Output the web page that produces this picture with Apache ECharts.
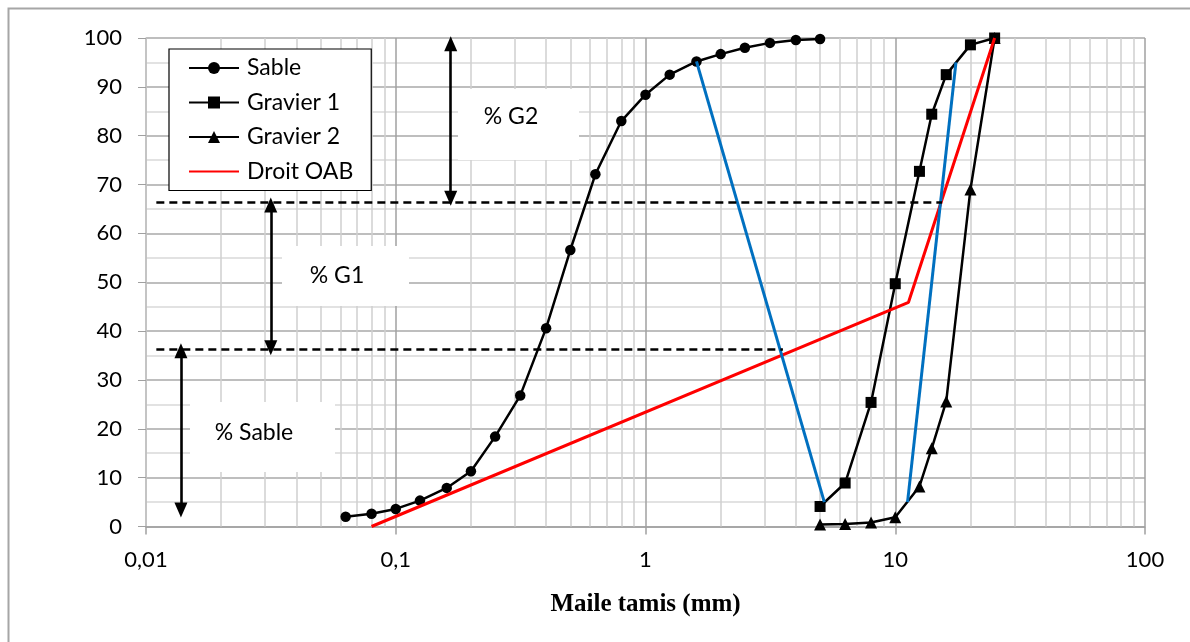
<!DOCTYPE html>
<html>
<head>
<meta charset="utf-8">
<script src="https://cdn.jsdelivr.net/npm/echarts@6/dist/echarts.min.js"></script>
<style>
  html, body { margin: 0; padding: 0; background: #fff; }
  #chart { width: 1190px; height: 642px; }
</style>
</head>
<body>
<div id="chart"></div>
<script>
// Sieve openings (mm) and cumulative passing (%) for each material
const sableX = [0.063, 0.08, 0.1, 0.125, 0.16, 0.2, 0.25, 0.315, 0.4, 0.5, 0.63, 0.8, 1, 1.25, 1.6, 2, 2.5, 3.15, 4, 5];
const sableY = [2.0, 2.6, 3.6, 5.3, 7.9, 11.3, 18.4, 26.8, 40.6, 56.6, 72.1, 83.0, 88.4, 92.5, 95.2, 96.7, 98.0, 99.0, 99.6, 99.8];

const gravier1X = [5, 6.3, 8, 10, 12.5, 14, 16, 20, 25];
const gravier1Y = [4.1, 8.9, 25.4, 49.7, 72.7, 84.4, 92.5, 98.6, 100];

const gravier2X = [5, 6.3, 8, 10, 12.5, 14, 16, 20, 25];
const gravier2Y = [0.4, 0.5, 0.8, 1.9, 8.2, 16.0, 25.6, 69.0, 100];

// Broken line O-A-B
const droiteX = [0.08, 11.3, 25];
const droiteY = [0, 45.9, 100];

// Construction lines joining 95 % of one curve to 5 % of the next
const jonction1X = [1.6, 5.2];
const jonction1Y = [95.2, 5.0];
const jonction2X = [11.2, 17.5];
const jonction2Y = [5.0, 95.0];

// Horizontal split levels (%) and where each dashed line stops (mm)
const niveauxY = [66.4, 36.3];
const niveauxDebutX = 0.011;
const niveauxFinX = [15.4, 3.55];

// Vertical double arrows: x position (mm), lower and upper ends (%)
const flechesX = [0.166, 0.0316, 0.0138];
const flechesBas = [67.2, 36.6, 3.4];
const flechesHaut = [98.8, 65.8, 36.0];

// Axis tick labels
const xTicks = ['0,01', '0,1', '1', '10', '100'];
const yTicks = ['0', '10', '20', '30', '40', '50', '60', '70', '80', '90', '100'];

const pairs = (xs, ys) => xs.map((x, i) => [x, ys[i]]);

// Intermediate log grid lines (2..9 in every decade)
const minorLines = [];
for (let e = -2; e < 2; e++) {
  for (let k = 2; k <= 9; k++) minorLines.push({ xAxis: +(k * Math.pow(10, e)).toPrecision(3) });
}

const FONT = 'Lato, "Open Sans", sans-serif';

const chart = echarts.init(document.getElementById('chart'), null, { renderer: 'canvas' });

chart.setOption({
  animation: false,
  backgroundColor: '#ffffff',
  grid: { left: 146, right: 45, top: 38, bottom: 115.5, containLabel: false },
  xAxis: {
    type: 'log',
    logBase: 10,
    min: 0.01,
    max: 100,
    name: 'Maile tamis (mm)',
    nameLocation: 'middle',
    nameGap: 66,
    nameTextStyle: { fontFamily: '"Liberation Serif", serif', fontWeight: 'bold', fontSize: 25, color: '#000' },
    axisLine: { show: true, onZero: false, lineStyle: { color: '#a0a0a0', width: 1.5 } },
    axisTick: { show: true, length: 8, inside: false, lineStyle: { color: '#a0a0a0', width: 1.5 } },
    axisLabel: {
      margin: 22,
      fontFamily: FONT,
      fontSize: 22,
      color: '#000',
      formatter: (v) => {
        const i = Math.round(Math.log10(v)) + 2;
        return xTicks[i] !== undefined ? xTicks[i] : '';
      }
    },
    splitLine: { show: true, lineStyle: { color: '#a0a0a0', width: 1.5 } },
    minorTick: { show: false },
    minorSplitLine: { show: false }
  },
  yAxis: {
    type: 'value',
    min: 0,
    max: 100,
    interval: 10,
    axisLine: { show: true, lineStyle: { color: '#c8c8c8', width: 1.5 } },
    axisTick: { show: true, length: 8, lineStyle: { color: '#a0a0a0', width: 1 } },
    axisLabel: {
      margin: 24,
      fontFamily: FONT,
      fontSize: 22,
      color: '#000',
      formatter: (v) => yTicks[Math.round(v / 10)]
    },
    splitLine: { show: true, lineStyle: { color: '#a8a8a8', width: 1.5 } },
    minorTick: { show: false, splitNumber: 2 },
    minorSplitLine: { show: true, lineStyle: { color: '#d9d9d9', width: 1.5 } }
  },
  legend: {
    orient: 'vertical',
    left: 169,
    top: 49,
    data: ['Sable', 'Gravier 1', 'Gravier 2', { name: 'Droit OAB', itemStyle: { opacity: 0 } }],
    backgroundColor: '#ffffff',
    borderColor: '#000000',
    borderWidth: 1.2,
    borderRadius: 0,
    padding: [7, 18, 7, 19],
    itemWidth: 50,
    itemHeight: 15,
    itemGap: 10.5,
    textStyle: { fontFamily: FONT, fontSize: 23, color: '#000', lineHeight: 24, padding: [0, 0, 0, 3] },
    z: 10
  },
  graphic: [
    // Outer frame of the figure
    {
      type: 'rect', left: 6, top: 6, z: 0,
      shape: { width: 1260, height: 700 },
      style: { fill: 'none', stroke: '#a6a6a6', lineWidth: 2 }
    },
    // White label boxes
    { type: 'rect', z: 100, shape: { x: 458, y: 89, width: 121, height: 71 }, style: { fill: '#fff' } },
    { type: 'text', z: 101, style: { x: 511, y: 117, text: '% G2', align: 'center', verticalAlign: 'middle', font: '23px ' + FONT, fill: '#000' } },
    { type: 'rect', z: 100, shape: { x: 282, y: 246, width: 127, height: 60 }, style: { fill: '#fff' } },
    { type: 'text', z: 101, style: { x: 337, y: 276, text: '% G1', align: 'center', verticalAlign: 'middle', font: '23px ' + FONT, fill: '#000' } },
    { type: 'rect', z: 100, shape: { x: 190, y: 402, width: 145, height: 70 }, style: { fill: '#fff' } },
    { type: 'text', z: 101, style: { x: 254, y: 433, text: '% Sable', align: 'center', verticalAlign: 'middle', font: '23px ' + FONT, fill: '#000' } }
  ],
  series: [
    {
      // intermediate vertical grid lines of the log axis
      name: 'grille',
      type: 'line',
      data: [],
      silent: true,
      z: 1,
      markLine: {
        silent: true,
        symbol: 'none',
        label: { show: false },
        lineStyle: { type: 'solid', color: '#cfcfcf', width: 1.5 },
        data: minorLines,
        z: 1
      }
    },
    {
      name: 'Sable',
      type: 'line',
      data: pairs(sableX, sableY),
      symbol: 'circle',
      symbolSize: 10.5,
      lineStyle: { color: '#000', width: 2.5 },
      itemStyle: { color: '#000' },
      z: 5
    },
    {
      name: 'Gravier 1',
      type: 'line',
      data: pairs(gravier1X, gravier1Y),
      symbol: 'rect',
      symbolSize: 11,
      lineStyle: { color: '#000', width: 2.5 },
      itemStyle: { color: '#000' },
      z: 5
    },
    {
      name: 'Gravier 2',
      type: 'line',
      data: pairs(gravier2X, gravier2Y),
      symbol: 'triangle',
      symbolSize: 12,
      lineStyle: { color: '#000', width: 2.5 },
      itemStyle: { color: '#000' },
      z: 5
    },
    {
      name: 'Droit OAB',
      type: 'line',
      data: pairs(droiteX, droiteY),
      symbol: 'none',
      showSymbol: false,
      lineStyle: { color: '#ff0000', width: 3 },
      itemStyle: { color: '#ff0000' },
      z: 6
    },
    {
      name: 'jonction1',
      type: 'line',
      data: pairs(jonction1X, jonction1Y),
      symbol: 'none',
      lineStyle: { color: '#0070c0', width: 3 },
      itemStyle: { color: '#0070c0' },
      z: 7
    },
    {
      name: 'jonction2',
      type: 'line',
      data: pairs(jonction2X, jonction2Y),
      symbol: 'none',
      lineStyle: { color: '#0070c0', width: 3 },
      itemStyle: { color: '#0070c0' },
      z: 7
    },
    {
      // dashed split levels and double arrows
      name: 'reperes',
      type: 'line',
      data: [],
      silent: true,
      z: 8,
      markLine: {
        silent: true,
        label: { show: false },
        z: 8,
        data: [
          ...niveauxY.map((y, i) => [
            { coord: [niveauxDebutX, y], symbol: 'none', lineStyle: { type: [8, 5], color: '#000', width: 2.5 } },
            { coord: [niveauxFinX[i], y], symbol: 'none' }
          ]),
          ...flechesX.map((x, i) => [
            { coord: [x, flechesBas[i]], symbol: 'triangle', symbolSize: [13, 15], lineStyle: { type: 'solid', color: '#000', width: 2.6 }, itemStyle: { color: '#000' } },
            { coord: [x, flechesHaut[i]], symbol: 'triangle', symbolSize: [13, 15] }
          ])
        ]
      }
    }
  ]
});
</script>
</body>
</html>
